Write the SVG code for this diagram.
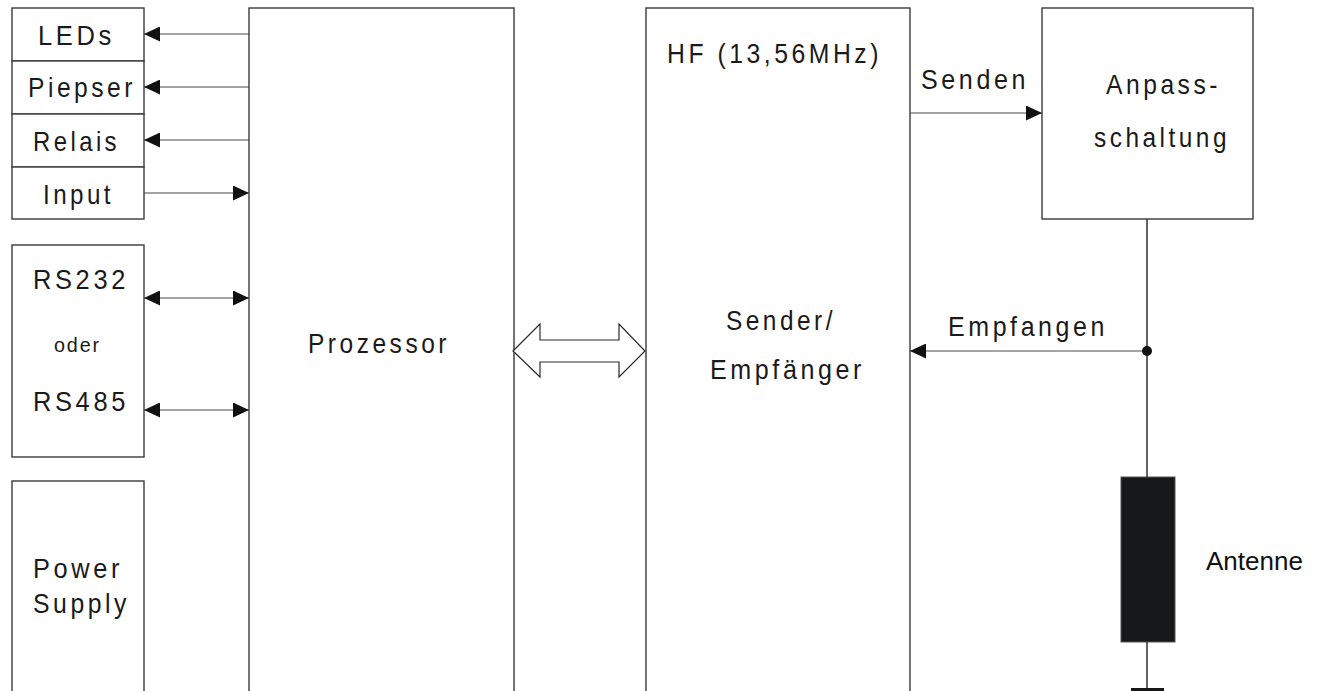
<svg xmlns="http://www.w3.org/2000/svg" width="1318" height="691" viewBox="0 0 1318 691">
  <defs>
    <style>
      .box { fill: #ffffff; stroke: #3a3a3a; stroke-width: 1.4; }
      .wire { fill: none; stroke: #4a4a4a; stroke-width: 1.2; }
      .lbl { font-family: "Liberation Sans", Arial, sans-serif; font-size: 28px; letter-spacing: 4px; fill: #1a1a1a; }
      .small { font-size: 21px; letter-spacing: 2px; }
      .plain { font-family: "Liberation Sans", Arial, sans-serif; font-size: 26px; fill: #111111; }
    </style>
    <marker id="head" viewBox="0 0 16 15" refX="16" refY="7.5" markerWidth="16" markerHeight="15" markerUnits="userSpaceOnUse" orient="auto-start-reverse">
      <path d="M0,0 L16,7.5 L0,15 Z" fill="#111111"/>
    </marker>
  </defs>

  <rect width="1318" height="691" fill="#ffffff"/>

  <!-- I/O stack -->
  <g id="leds">
    <rect class="box" x="12" y="8" width="132" height="53"/>
    <text class="lbl" x="38" y="45" textLength="77" lengthAdjust="spacingAndGlyphs">LEDs</text>
  </g>
  <g id="piepser">
    <rect class="box" x="12" y="61" width="132" height="53"/>
    <text class="lbl" x="28" y="97" textLength="108" lengthAdjust="spacingAndGlyphs">Piepser</text>
  </g>
  <g id="relais">
    <rect class="box" x="12" y="114" width="132" height="53"/>
    <text class="lbl" x="33" y="151" textLength="87" lengthAdjust="spacingAndGlyphs">Relais</text>
  </g>
  <g id="input">
    <rect class="box" x="12" y="167" width="132" height="52"/>
    <text class="lbl" x="43" y="204" textLength="71" lengthAdjust="spacingAndGlyphs">Input</text>
  </g>

  <!-- serial interface -->
  <g id="serial">
    <rect class="box" x="12" y="245" width="132" height="212"/>
    <text class="lbl" x="33" y="289" textLength="96" lengthAdjust="spacingAndGlyphs">RS232</text>
    <text class="lbl small" x="54" y="352" textLength="47" lengthAdjust="spacingAndGlyphs">oder</text>
    <text class="lbl" x="33" y="411" textLength="96" lengthAdjust="spacingAndGlyphs">RS485</text>
  </g>

  <!-- power supply -->
  <g id="power">
    <rect class="box" x="12" y="481" width="132" height="230"/>
    <text class="lbl" x="33" y="578" textLength="90" lengthAdjust="spacingAndGlyphs">Power</text>
    <text class="lbl" x="33" y="613" textLength="97" lengthAdjust="spacingAndGlyphs">Supply</text>
  </g>

  <!-- processor -->
  <g id="prozessor">
    <rect class="box" x="249" y="8" width="265" height="710"/>
    <text class="lbl" x="308" y="353" textLength="142" lengthAdjust="spacingAndGlyphs">Prozessor</text>
  </g>

  <!-- HF transceiver -->
  <g id="hf">
    <rect class="box" x="646" y="8" width="264" height="710"/>
    <text class="lbl" x="667" y="63" textLength="215" lengthAdjust="spacingAndGlyphs">HF (13,56MHz)</text>
    <text class="lbl" x="726" y="330" textLength="110" lengthAdjust="spacingAndGlyphs">Sender/</text>
    <text class="lbl" x="710" y="379" textLength="155" lengthAdjust="spacingAndGlyphs">Empfänger</text>
  </g>

  <!-- matching network -->
  <g id="anpassung">
    <rect class="box" x="1042" y="8" width="211" height="211"/>
    <text class="lbl" x="1106" y="94" textLength="115" lengthAdjust="spacingAndGlyphs">Anpass-</text>
    <text class="lbl" x="1094" y="147" textLength="136" lengthAdjust="spacingAndGlyphs">schaltung</text>
  </g>

  <!-- antenna -->
  <g id="antenne">
    <rect x="1121" y="477" width="54" height="165" fill="#161718" stroke="#555555" stroke-width="1"/>
    <rect x="1131" y="688" width="33" height="4" fill="#161718"/>
    <text class="plain" x="1206" y="570">Antenne</text>
  </g>

  <!-- connectors -->
  <g id="connectors">
    <line class="wire" x1="249" y1="34" x2="144" y2="34" marker-end="url(#head)"/>
    <line class="wire" x1="249" y1="87" x2="144" y2="87" marker-end="url(#head)"/>
    <line class="wire" x1="249" y1="140" x2="144" y2="140" marker-end="url(#head)"/>
    <line class="wire" x1="144" y1="193" x2="249" y2="193" marker-end="url(#head)"/>
    <line class="wire" x1="144" y1="298" x2="249" y2="298" marker-start="url(#head)" marker-end="url(#head)"/>
    <line class="wire" x1="144" y1="410" x2="249" y2="410" marker-start="url(#head)" marker-end="url(#head)"/>

    <!-- data bus between processor and transceiver -->
    <polygon points="513,351 540,324 540,340 619,340 619,324 645,351 619,377 619,362 540,362 540,377" fill="#ffffff" stroke="#2a2a2a" stroke-width="1.2"/>

    <!-- transmit path -->
    <line class="wire" x1="910" y1="113" x2="1042" y2="113" marker-end="url(#head)"/>
    <text class="lbl" x="921" y="89" textLength="108" lengthAdjust="spacingAndGlyphs">Senden</text>

    <!-- antenna feed and receive tap -->
    <line x1="1147" y1="219" x2="1147" y2="477" stroke="#111111" stroke-width="1.3"/>
    <line x1="1147" y1="642" x2="1147" y2="690" stroke="#111111" stroke-width="1.3"/>
    <line class="wire" x1="1147" y1="351" x2="910" y2="351" marker-end="url(#head)"/>
    <circle cx="1147" cy="351" r="5" fill="#111111"/>
    <text class="lbl" x="948" y="336" textLength="160" lengthAdjust="spacingAndGlyphs">Empfangen</text>
  </g>
</svg>
